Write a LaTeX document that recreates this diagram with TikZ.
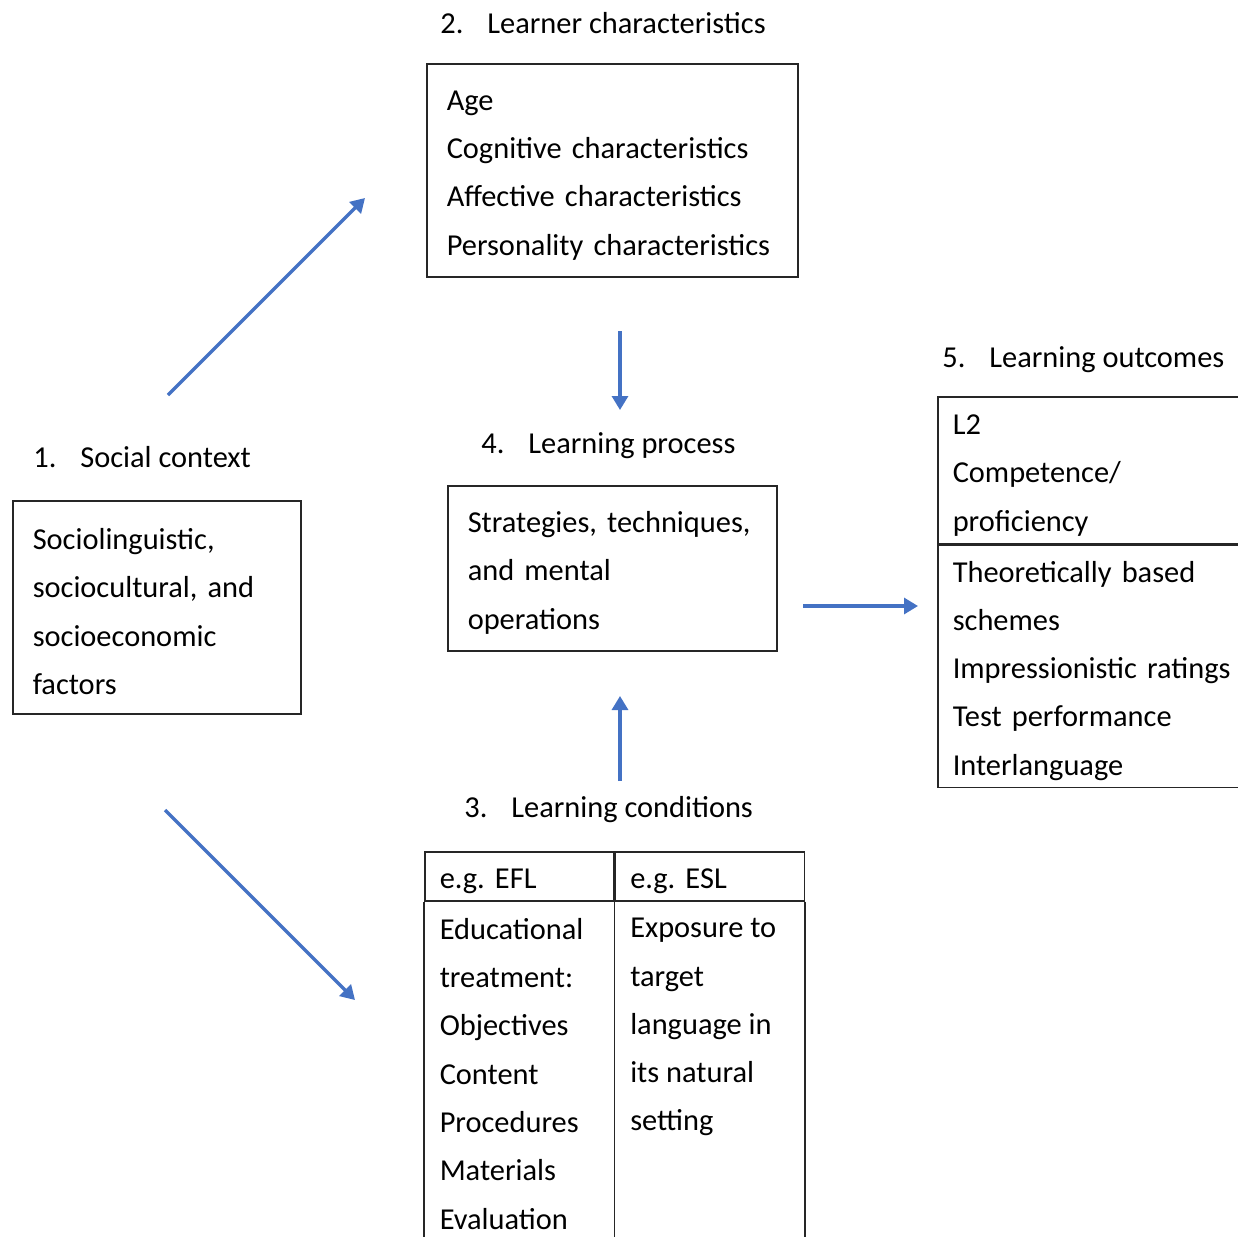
\documentclass[tikz,border=0pt]{standalone}
\usepackage{fontspec}
\setmainfont{Carlito}
\usetikzlibrary{arrows.meta,positioning}

\definecolor{flowblue}{HTML}{4472C4}
\newcommand*{\hnum}[2]{\makebox[23.5pt][l]{#1}#2}
\newcommand*{\topgap}{\rule{0pt}{15pt}}

\begin{document}
\begin{tikzpicture}
[
	x=0.5pt, y=-0.5pt,
	every node/.style={font=\fontsize{15.2pt}{24.15pt}\selectfont\frenchspacing},
	box/.style={draw=black!85,line width=0.75pt,align=left,inner xsep=10pt,inner ysep=0pt,anchor=north west},
	cell/.style={box,inner xsep=7.5pt},
	head/.style={inner sep=0pt,anchor=base west},
	flow/.style={draw=flowblue,line width=1.6pt,-{Triangle[length=7pt,width=8pt]}}
]
	\useasboundingbox (0,0) rectangle (1238,1237);
	\clip (0,0) rectangle (1238,1237);

	% headings
	\node[head] (h1) at (33,467) {\hnum{1.}{Social context}};
	\node[head] (h2) at (440,33) {\hnum{2.}{Learner characteristics}};
	\node[head] (h3) at (464,817) {\hnum{3.}{Learning conditions}};
	\node[head] (h4) at (481,453) {\hnum{4.}{Learning process}};
	\node[head] (h5) at (942,367) {\hnum{5.}{Learning outcomes}};

	% boxes
	\node[box,text width=124pt,minimum height=106.5pt] (social) at (12,500)
		{\topgap Sociolinguistic,\\sociocultural, and\\socioeconomic\\factors};
	\node[box,text width=165.5pt,minimum height=106.5pt] (learner) at (426,63)
		{\topgap Age\\Cognitive characteristics\\Affective characteristics\\Personality characteristics};
	\node[box,text width=144.5pt,minimum height=82.5pt] (process) at (447,485)
		{\topgap Strategies, techniques,\\and mental\\operations};

	% outcomes
	\node[cell,text width=185pt,minimum height=73.5pt] (l2) at (937,396)
		{\topgap L2\\Competence/\\proficiency};
	\node[cell,text width=185pt,minimum height=121pt] (rating) at (l2.south west)
		{\topgap Theoretically based\\schemes\\Impressionistic ratings\\Test performance\\Interlanguage};

	% conditions table
	\node[cell,text width=79.5pt,minimum height=24.5pt] (efl) at (424,851) {\topgap e.g. EFL};
	\node[cell,text width=79.5pt,minimum height=24.5pt] (esl) at (efl.north east) {\topgap e.g. ESL};
	\node[cell,draw=none,inner ysep=8pt] (edu) at (efl.south west)
		{Educational\\treatment:\\Objectives\\Content\\Procedures\\Materials\\Evaluation};
	\node[cell,draw=none,inner ysep=8pt] (expo) at (esl.south west)
		{Exposure to\\target\\language in\\its natural\\setting};
	\draw[black!85,line width=0.75pt] (efl.south west) -- ++(0,400);
	\draw[black!85,line width=0.75pt] (esl.south west) -- ++(0,400);
	\draw[black!85,line width=0.75pt] (esl.south east) -- ++(0,400);

	% arrows
	\coordinate (a1) at (168,395);
	\coordinate (b1) at (365,198);
	\coordinate (a2) at (620,331);
	\coordinate (b2) at (620,410);
	\coordinate (a3) at (803,606);
	\coordinate (b3) at (918,606);
	\coordinate (a4) at (620,781);
	\coordinate (b4) at (620,696);
	\coordinate (a5) at (165,810);
	\coordinate (b5) at (355,1000);
	\draw[flow] (a1) -- (b1);
	\draw[flow] (a2) -- (b2);
	\draw[flow] (a3) -- (b3);
	\draw[flow] (a4) -- (b4);
	\draw[flow] (a5) -- (b5);

\end{tikzpicture}
\end{document}
